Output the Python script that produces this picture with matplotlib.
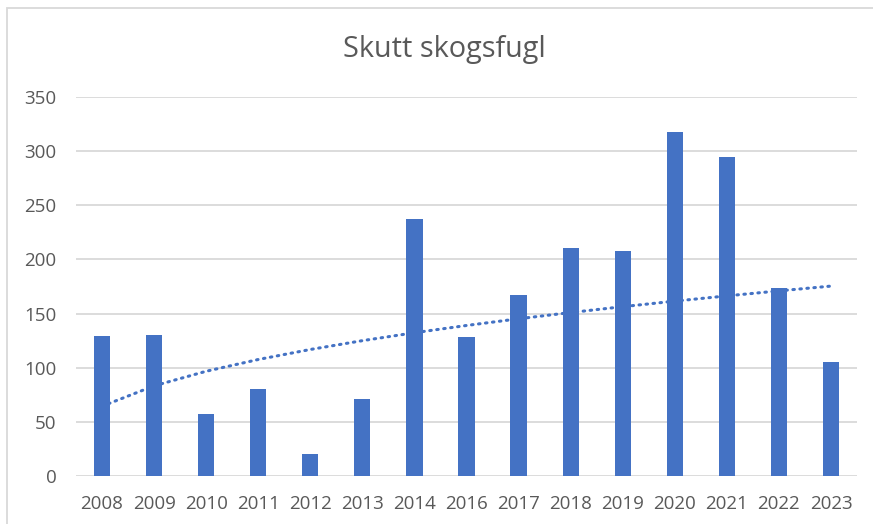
import numpy as np
import matplotlib.pyplot as plt
from matplotlib.patches import Rectangle

years = ['2008', '2009', '2010', '2011', '2012', '2013', '2014', '2016',
         '2017', '2018', '2019', '2020', '2021', '2022', '2023']
skutt = [129, 130, 57, 80, 20, 71, 237, 128, 167, 211, 208, 318, 295, 174, 105]

plt.rcParams['font.family'] = ['Open Sans', 'DejaVu Sans']

fig = plt.figure(figsize=(8.73, 5.24), dpi=100)
W, H = 873, 524
ax = fig.add_axes([76 / W, 1 - 476 / H, (857 - 76) / W, (476 - 97) / H])

x = np.arange(len(years))
ax.bar(x, skutt, width=0.31, color='#4472C4', zorder=3)

# potens-trendlinje (som i Excel): y = c * n^k
n = np.arange(1, len(skutt) + 1)
k, lnc = np.polyfit(np.log(n), np.log(skutt), 1)
ax.plot(x, np.exp(lnc) * n ** k, color='#4472C4', lw=2.2, ls=(0, (0.5, 1.8)),
        dash_capstyle='round', zorder=4)

ax.set_xlim(-0.5, len(years) - 0.5)
ax.set_ylim(0, 350)
ax.set_yticks(range(0, 351, 50))
ax.set_xticks(x)
ax.set_xticklabels(years)
ax.grid(axis='y', color='#D9D9D9', lw=1.3, zorder=0)
for s in ax.spines.values():
    s.set_visible(False)
ax.tick_params(length=0, labelsize=13.5, colors='#595959', pad=14)
ax.tick_params(axis='y', pad=14)

fig.text(444 / W, 1 - 50 / H, 'Skutt skogsfugl', ha='center', va='center',
         fontsize=20.8, color='#595959')

fig.patches.append(Rectangle((7 / W, -0.1), 1.2, 1 - 8 / H + 0.1,
                             transform=fig.transFigure, fill=False,
                             ec='#D9D9D9', lw=1.3))

fig.savefig('out.png', dpi=100)
